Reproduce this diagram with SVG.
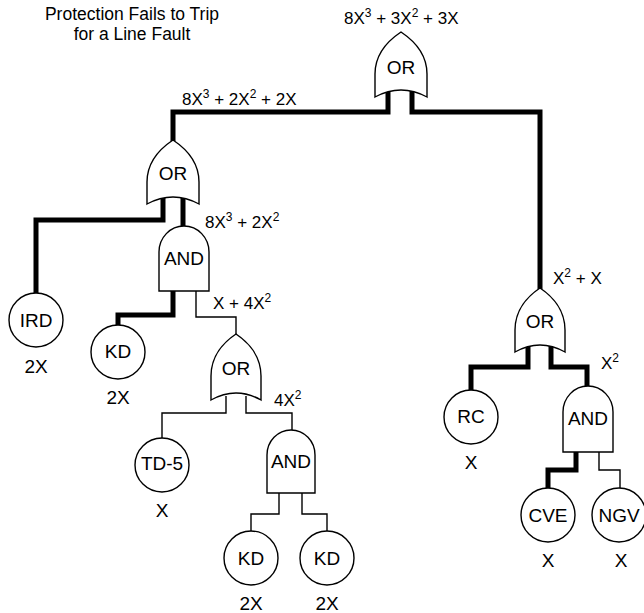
<svg xmlns="http://www.w3.org/2000/svg" width="644" height="613" viewBox="0 0 644 613">
<style>
text{font-family:"Liberation Sans",Arial,sans-serif;fill:#000}
.n{font-size:19px;text-anchor:middle}
.t{font-size:17.5px;text-anchor:middle}
.e{font-size:17px}
.s{font-size:12px}
.g{fill:#fff;stroke:#000;stroke-width:1.4}
.thick{fill:none;stroke:#000;stroke-width:5}
.thin{fill:none;stroke:#000;stroke-width:1.4}
</style>
<rect width="644" height="613" fill="#fff"/>
<text class="t" x="132" y="20">Protection Fails to Trip</text>
<text class="t" x="132" y="40">for a Line Fault</text>
<g id="connectors">
<path class="thick" d="M388,88 V112 H173 V141"/>
<path class="thick" d="M412,88 V112 H540 V289"/>
<path class="thick" d="M163,196 V220 H36 V293"/>
<path class="thick" d="M183,196 V227"/>
<path class="thick" d="M173,291 V315 H118 V325"/>
<path class="thin" d="M196,291 V317 H236 V335"/>
<path class="thin" d="M226,396 V413 H162 V438"/>
<path class="thin" d="M246,396 V413 H292 V430"/>
<path class="thin" d="M279,493 V514 H251 V531"/>
<path class="thin" d="M302,493 V514 H327 V531"/>
<path class="thick" d="M528,346 V367 H471 V390"/>
<path class="thick" d="M551,346 V367 H587 V387"/>
<path class="thick" d="M576,452 V470 H548 V488"/>
<path class="thin" d="M599,452 V470 H620 V488"/>
</g>
<g id="or-top">
<path class="g" d="M401,32 C389,40 375,54 375,74 V97 Q401,83 427,97 V74 C427,54 413,40 401,32 Z"/>
<text class="n" x="401" y="74">OR</text>
</g>
<g id="or-left">
<path class="g" d="M173,140 C161,148 147,162 147,182 V204 Q173,190 199,204 V182 C199,162 185,148 173,140 Z"/>
<text class="n" x="173" y="180">OR</text>
</g>
<g id="and-1">
<path class="g" d="M159,291 V252 A25,26 0 0 1 209,252 V291 Z"/>
<text class="n" x="184" y="265">AND</text>
</g>
<g id="or-2">
<path class="g" d="M236,334 C224,342 211,356 211,376 V400 Q236,386 261,400 V376 C261,356 248,342 236,334 Z"/>
<text class="n" x="236" y="375">OR</text>
</g>
<g id="and-2">
<path class="g" d="M267,493 V455 A24,25 0 0 1 315,455 V493 Z"/>
<text class="n" x="291" y="468">AND</text>
</g>
<g id="or-right">
<path class="g" d="M540,288 C528,296 515,310 515,330 V352 Q540,338 565,352 V330 C565,310 552,296 540,288 Z"/>
<text class="n" x="540" y="328">OR</text>
</g>
<g id="and-3">
<path class="g" d="M563,452 V412 A25,26 0 0 1 613,412 V452 Z"/>
<text class="n" x="588" y="425">AND</text>
</g>
<g id="ird">
<circle class="g" cx="36" cy="320" r="27"/>
<text class="n" x="36" y="327">IRD</text>
<text class="n" x="36" y="373">2X</text>
</g>
<g id="kd-1">
<circle class="g" cx="118" cy="352" r="27"/>
<text class="n" x="118" y="358">KD</text>
<text class="n" x="118" y="404">2X</text>
</g>
<g id="td5">
<circle class="g" cx="162" cy="465" r="27"/>
<text class="n" x="162" y="470">TD-5</text>
<text class="n" x="162" y="517">X</text>
</g>
<g id="kd-2">
<circle class="g" cx="251" cy="558" r="27"/>
<text class="n" x="251" y="565">KD</text>
<text class="n" x="251" y="610">2X</text>
</g>
<g id="kd-3">
<circle class="g" cx="327" cy="558" r="27"/>
<text class="n" x="327" y="565">KD</text>
<text class="n" x="327" y="610">2X</text>
</g>
<g id="rc">
<circle class="g" cx="471" cy="417" r="27"/>
<text class="n" x="471" y="423">RC</text>
<text class="n" x="471" y="469">X</text>
</g>
<g id="cve">
<circle class="g" cx="548" cy="515" r="27"/>
<text class="n" x="548" y="522">CVE</text>
<text class="n" x="548" y="567">X</text>
</g>
<g id="ngv">
<circle class="g" cx="619" cy="515" r="27"/>
<text class="n" x="619" y="522">NGV</text>
<text class="n" x="621" y="567">X</text>
</g>
<g id="labels">
<text class="e" x="344" y="24">8X<tspan class="s" dy="-7">3</tspan><tspan dy="7"> + 3X</tspan><tspan class="s" dy="-7">2</tspan><tspan dy="7"> + 3X</tspan></text>
<text class="e" x="182" y="105">8X<tspan class="s" dy="-7">3</tspan><tspan dy="7"> + 2X</tspan><tspan class="s" dy="-7">2</tspan><tspan dy="7"> + 2X</tspan></text>
<text class="e" x="205" y="228">8X<tspan class="s" dy="-7">3</tspan><tspan dy="7"> + 2X</tspan><tspan class="s" dy="-7">2</tspan></text>
<text class="e" x="213" y="309">X + 4X<tspan class="s" dy="-7">2</tspan></text>
<text class="e" x="274" y="406">4X<tspan class="s" dy="-7">2</tspan></text>
<text class="e" x="553" y="284">X<tspan class="s" dy="-7">2</tspan><tspan dy="7"> + X</tspan></text>
<text class="e" x="601" y="369">X<tspan class="s" dy="-7">2</tspan></text>
</g>
</svg>
